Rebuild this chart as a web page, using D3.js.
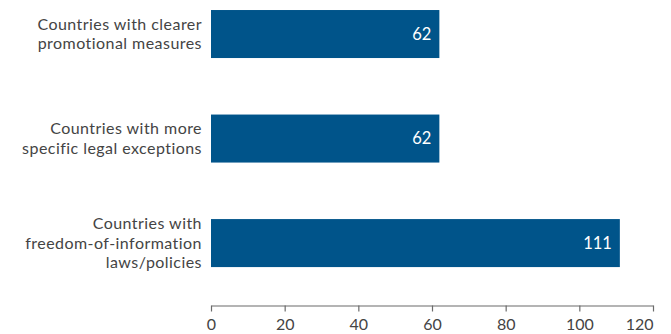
<!DOCTYPE html>
<html><head><meta charset="utf-8">
<script src="https://cdn.jsdelivr.net/npm/d3@7"></script>
<style>
body{margin:0;background:#fff;}
text{font-family:Lato,"Open Sans",sans-serif;}
</style></head>
<body><svg id="chart" width="671" height="334"></svg>
<script>
const categories = [
  ["Countries with clearer", "promotional measures"],
  ["Countries with more", "specific legal exceptions"],
  ["Countries with", "freedom-of-information", "laws/policies"]
];
const values = [62, 62, 111];
const tickValues = [0, 20, 40, 60, 80, 100, 120];

const svg = d3.select("#chart");
const x = d3.scaleLinear().domain([0, 120]).range([211, 653]);
const y = d3.scaleBand().domain(d3.range(categories.length)).range([-18.2, 295.3]).paddingInner(0.5407).paddingOuter(0.27);

const barColor = "#00548a";
const textColor = "#444444";

svg.selectAll("rect.bar").data(values).join("rect")
  .attr("class", "bar")
  .attr("x", x(0))
  .attr("y", (d, i) => y(i))
  .attr("width", d => x(d) - x(0))
  .attr("height", y.bandwidth())
  .attr("fill", barColor);

svg.selectAll("text.val").data(values).join("text")
  .attr("class", "val")
  .attr("x", d => x(d) - 8)
  .attr("y", (d, i) => y(i) + y.bandwidth() / 2)
  .attr("dy", "0.36em")
  .attr("text-anchor", "end")
  .attr("fill", "#fff")
  .attr("font-size", 16.5)
  .text(d => d);

const lh = 19.2;
const lab = svg.selectAll("text.cat").data(categories).join("text")
  .attr("class", "cat")
  .attr("text-anchor", "end")
  .attr("fill", textColor)
  .attr("letter-spacing", "0.45px")
  .attr("font-size", 16);
lab.each(function(lines, i) {
  const c = y(i) + y.bandwidth() / 2;
  const n = lines.length;
  d3.select(this).selectAll("tspan").data(lines).join("tspan")
    .attr("x", 202)
    .attr("y", (l, j) => c + (j - (n - 1) / 2) * lh + 5.5)
    .text(l => l);
});

const axis = d3.axisBottom(x).tickValues(tickValues).tickSize(6).tickSizeOuter(0).tickPadding(7);
const g = svg.append("g").attr("transform", "translate(0,305.5)").call(axis);
g.select(".domain").attr("stroke", "#6b6b6b").attr("stroke-width", 1.2);
g.selectAll(".tick line").attr("stroke", "#6b6b6b").attr("stroke-width", 1.2);
g.selectAll(".tick text").attr("fill", textColor).attr("font-size", 16)
  .attr("font-family", "Lato, 'Open Sans', sans-serif")
  .attr("text-anchor", d => d === 120 ? "end" : "middle");
</script></body></html>
